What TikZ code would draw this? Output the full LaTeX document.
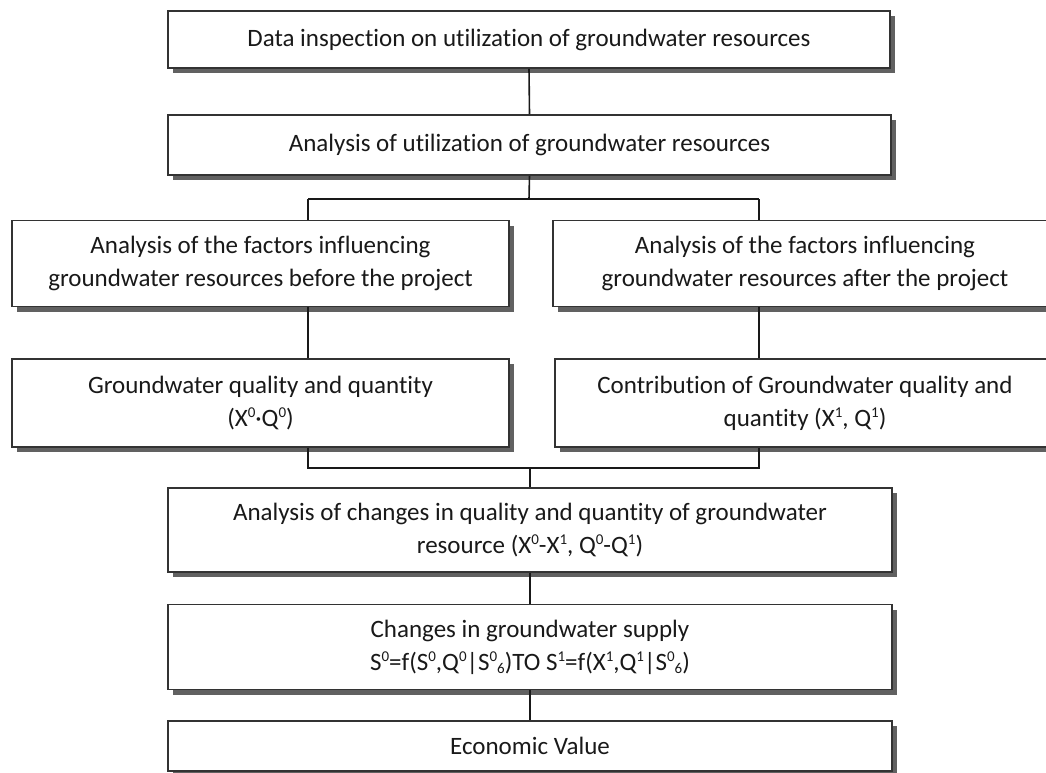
\documentclass[tikz,border=0pt]{standalone}
\usepackage{fontspec}
\setmainfont{Carlito}[Ligatures=NoCommon]
\usetikzlibrary{shadows}

% small raised / lowered indices set in text
\newcommand{\supx}[1]{\raisebox{0.75ex}{\fontsize{15}{15}\selectfont #1}}
\newcommand{\subx}[1]{\raisebox{-0.3ex}{\fontsize{15}{15}\selectfont #1}}

\begin{document}
\begin{tikzpicture}[x=1pt,y=-1pt,
  flowbox/.style={draw=black!80,line width=1.7pt,fill=white,
    rectangle,inner sep=2pt,align=center,text=black!90,
    font=\fontsize{25}{33}\selectfont,
    drop shadow={shadow xshift=5pt,shadow yshift=-5pt,fill=black!62,opacity=1}},
  wire/.style={draw=black!90,line width=1.6pt}]

\clip (0,0) rectangle (1046,773);
\fill[white] (0,0) rectangle (1046,773);

% main column
\node[flowbox,minimum width=722pt,minimum height=57pt] (b1) at (529,39.5)
  {Data inspection on utilization of groundwater resources};
\node[flowbox,minimum width=723pt,minimum height=60pt] (b2) at (529.5,145)
  {Analysis of utilization of groundwater resources};

% two branches
\node[flowbox,minimum width=497pt,minimum height=86pt] (b3l) at (260.5,263.5)
  {Analysis of the factors influencing\\groundwater resources before the project};
\node[flowbox,minimum width=504pt,minimum height=86pt] (b3r) at (805,263.5)
  {Analysis of the factors influencing\\groundwater resources after the project};
\node[flowbox,minimum width=497pt,minimum height=88pt] (b4l) at (260.5,403)
  {Groundwater quality and quantity\\(X\supx{0}·Q\supx{0})};
\node[flowbox,minimum width=500pt,minimum height=88pt] (b4r) at (805,403)
  {Contribution of Groundwater quality and\\quantity (X\supx{1}, Q\supx{1})};

% lower column
\node[flowbox,minimum width=724pt,minimum height=84pt] (b5) at (530,530)
  {Analysis of changes in quality and quantity of groundwater\\resource (X\supx{0}-X\supx{1}, Q\supx{0}-Q\supx{1})};
\node[flowbox,minimum width=724pt,minimum height=85pt] (b6) at (530,647)
  {Changes in groundwater supply\\S\supx{0}=f(S\supx{0},Q\supx{0}|S\supx{0}\subx{6})TO S\supx{1}=f(X\supx{1},Q\supx{1}|S\supx{0}\subx{6})};
\node[flowbox,minimum width=724pt,minimum height=50pt] (b7) at (530,746)
  {Economic Value};

% branching points
\coordinate (split)  at (529,199);
\coordinate (splitL) at (308,199);
\coordinate (splitR) at (759,199);
\coordinate (mergeL) at (308,468);
\coordinate (mergeR) at (759,468);
\coordinate (merge)  at (530,468);

\draw[wire] (b1.south) -- (b2.north);
\draw[wire] (b2.south) -- (split);
\draw[wire] (splitL) -- (splitR);
\draw[wire] (splitL) -- (b3l.north -| splitL);
\draw[wire] (splitR) -- (b3r.north -| splitR);
\draw[wire] (b3l.south -| splitL) -- (b4l.north -| splitL);
\draw[wire] (b3r.south -| splitR) -- (b4r.north -| splitR);
\draw[wire] (b4l.south -| mergeL) -- (mergeL) -- (mergeR) -- (b4r.south -| mergeR);
\draw[wire] (merge) -- (b5.north);
\draw[wire] (b5.south) -- (b6.north);
\draw[wire] (b6.south) -- (b7.north);

\end{tikzpicture}
\end{document}
